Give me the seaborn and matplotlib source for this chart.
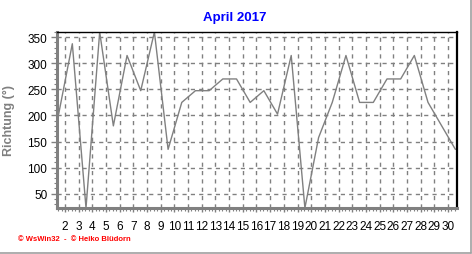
import numpy as np
import pandas as pd
import matplotlib
matplotlib.use("Agg")
import matplotlib.pyplot as plt
from matplotlib.ticker import MultipleLocator, FixedLocator
import seaborn as sns

days = list(range(1, 31))
direction = [202.5, 337.5, 22.5, 360, 180, 315, 247.5, 360, 135, 225,
             247.5, 247.5, 270, 270, 225, 247.5, 202.5, 315, 22.5, 157.5,
             225, 315, 225, 225, 270, 270, 315, 225, 180, 135]
xtick_labels = [str(d) for d in range(2, 31)]
yticks = [50, 100, 150, 200, 250, 300, 350]
title = "April 2017"
ylabel = "Richtung (°)"
credit = "© WsWin32  -  © Heiko Blüdorn"

sns.set_style("white")
plt.rcParams['font.family'] = ['Liberation Sans', 'DejaVu Sans']

df = pd.DataFrame({"day": np.array(days) + 0.54, "dir": direction})

fig = plt.figure(figsize=(4.72, 2.55), dpi=100)
ax = fig.add_axes([57/472, (255-209)/255, (457.3-57)/472, (209-32.5)/255])

sns.lineplot(data=df, x="day", y="dir", ax=ax, color="#808080", linewidth=1.0)

ax.set_xlim(1.42, 30.68)
ax.set_ylim(22.5, 361)

ax.xaxis.set_major_locator(FixedLocator(range(2, 31)))
ax.set_xticklabels(xtick_labels)
ax.xaxis.set_minor_locator(MultipleLocator(0.25))
ax.yaxis.set_major_locator(FixedLocator(yticks))
ax.yaxis.set_minor_locator(MultipleLocator(10))

ax.grid(True, which="major", color="#808080", linestyle=(0, (3, 3)), linewidth=1.0)
ax.set_axisbelow(True)

ax.tick_params(axis="x", which="major", length=3, width=1, color="#808080",
               pad=6, labelsize=8.5, labelcolor="black", direction="out", bottom=True)
ax.tick_params(axis="x", which="minor", length=2.5, width=0.8, color="#808080",
               direction="out", bottom=True)
ax.tick_params(axis="y", which="major", length=4, width=1, color="#808080",
               pad=3, labelsize=8.5, labelcolor="black", direction="out", left=True)
ax.tick_params(axis="y", which="minor", length=2, width=0.8, color="#808080",
               direction="out", left=True)

for s in ["left", "bottom"]:
    ax.spines[s].set_color("#808080")
    ax.spines[s].set_linewidth(2.2)
for s in ["top", "right"]:
    ax.spines[s].set_color("black")
ax.spines["top"].set_linewidth(1.0)
ax.spines["right"].set_linewidth(1.6)

ax.set_xlabel("")
ax.set_ylabel(ylabel, color="#808080", fontsize=9, fontweight="bold", labelpad=4)
ax.yaxis.set_label_coords(-0.105, 0.5)

fig.text(235/472, 1 - 18/255, title, color="#0000ff", fontsize=9.5,
         fontweight="bold", ha="center", va="center")
fig.text(18/472, 1 - 240/255, credit, color="#ff0000", fontsize=5.5,
         fontweight="bold", ha="left", va="center")

# figure frame lines (right and bottom)
fig.add_artist(plt.Line2D([0, 471/472], [1/255, 1/255], transform=fig.transFigure,
                          color="#a0a0a0", linewidth=1.2))
fig.add_artist(plt.Line2D([471/472, 471/472], [1/255, 1], transform=fig.transFigure,
                          color="#a0a0a0", linewidth=1.2))

fig.savefig("out.png", dpi=100, facecolor="white")
